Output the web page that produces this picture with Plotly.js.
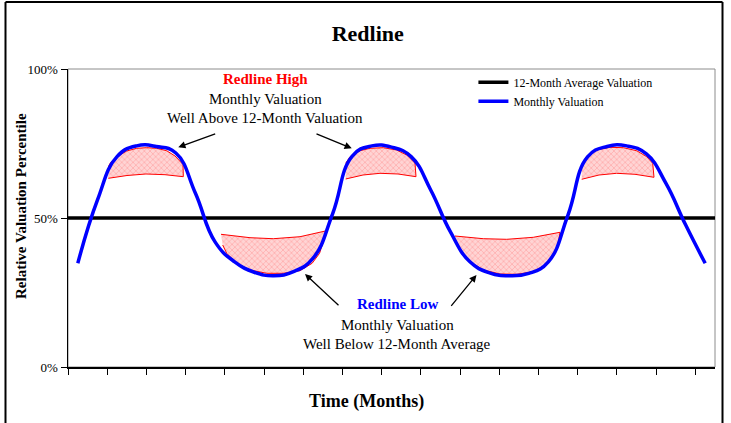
<!DOCTYPE html>
<html><head><meta charset="utf-8">
<script src="https://cdn.plot.ly/plotly-3.0.1.min.js"></script>
<style>html,body{margin:0;padding:0;background:#fff}#chart{width:731px;height:423px}</style>
</head><body><div id="chart"></div>
<script>
// ---- data ----
const months = [0,1,2,3,4,5,6,7,8,9,10,11,12,13,14,15,16,17,18,19,20,21,22,23,24,25,26,27,28,29,30,31,32];
const monthlyValuation = [34.8,56,70.6,74.2,74,71.8,58.3,42,35.3,31.8,30.6,32,36.5,51.5,70.8,74.2,73.8,70.6,59.4,45.4,35.3,31.6,30.6,31.4,35.3,51,70.5,74,74.2,71.5,61.6,47.7,34.8];
const averageValuation = [50, 50];
const xRange = [-0.5, 32.5];
const xTickVals = [-0.5,1.5,3.5,5.5,7.5,9.5,11.5,13.5,15.5,17.5,19.5,21.5,23.5,25.5,27.5,29.5,31.5];
const yTickVals = [0, 50, 100];
const yTickText = ['0%', '50%', '100%'];

// "Redline" shaded zones (outline points, in months / percent)
const highZone1X = [1.556,2.509,3.478,4.447,5.381,5.366,4.957,4.534,4.024,3.514,3.004,2.494,2.066,1.642,1.556];
const highZone1Y = [63.32,64.26,64.77,64.53,63.86,67.95,70.81,72.58,73.39,73.59,73.39,72.48,70.81,68.36,67.11];
const highZone2X = [13.664,14.546,15.414,16.332,17.250,17.199,16.775,16.265,15.582,14.904,14.393,13.883,13.664];
const highZone2Y = [63.09,64.43,65.00,64.77,63.86,68.36,71.14,72.82,73.59,73.39,72.58,70.57,68.36];
const highZone3X = [25.701,26.584,27.486,28.420,29.389,29.323,29.017,28.506,27.823,27.145,26.466,25.956,25.701];
const highZone3Y = [62.99,64.43,65.00,64.66,63.66,68.36,70.57,72.58,73.59,73.72,72.82,70.8,67.5];
const lowZone1X = [7.304,8.783,9.971,11.333,12.70,12.55,12.33,11.95,11.333,10.481,9.635,8.783,8.105,7.594,7.390];
const lowZone1Y = [44.53,43.39,43.05,43.72,45.74,42.62,38.15,34.80,32.32,31.44,31.44,32.55,34.80,38.15,40.94];
const lowZone2X = [19.239,20.682,21.876,23.233,24.594,24.508,24.253,23.830,23.233,22.386,21.534,20.682,20.004,19.581,19.326];
const lowZone2Y = [43.96,43.05,42.85,43.52,45.20,41.51,37.01,34.23,31.98,31.11,31.21,32.55,35.34,38.15,40.94];

// ---- styles ----
const serif = 'Liberation Serif, Times New Roman, serif';
const zoneStyle = {
  type: 'scatter', mode: 'lines', fill: 'toself', showlegend: false, hoverinfo: 'skip',
  line: {color: '#ff0000', width: 1},
  fillcolor: '#ffc8c8',
  fillpattern: {shape: 'x', fgcolor: '#ff9a9a', bgcolor: '#ffd4d4', size: 4, solidity: 0.25}
};
const zones = [[highZone1X, highZone1Y],[highZone2X, highZone2Y],[highZone3X, highZone3Y],[lowZone1X, lowZone1Y],[lowZone2X, lowZone2Y]]
  .map(z => Object.assign({}, zoneStyle, {x: z[0], y: z[1]}));

const traces = zones.concat([
  {type: 'scatter', mode: 'lines', name: '12-Month Average Valuation', x: xRange, y: averageValuation,
   line: {color: '#000000', width: 3.5}, hoverinfo: 'skip'},
  {type: 'scatter', mode: 'lines', name: 'Monthly Valuation', x: months, y: monthlyValuation,
   line: {color: '#0000ff', width: 3.5, shape: 'spline', smoothing: 1.3}}
]);

function arrow(x, y, ax, ay) {
  return {x: x, y: y, xref: 'x', yref: 'y', ax: ax, ay: ay, text: '', showarrow: true,
    arrowhead: 2, arrowsize: 1.1, arrowwidth: 1.3, arrowcolor: '#000', standoff: 0};
}
function label(x, y, text, size, color, bold) {
  return {x: x, y: y, xref: 'x', yref: 'y', text: text, showarrow: false, xanchor: 'center', yanchor: 'middle',
    font: {family: serif, size: size, color: color, weight: bold ? 'bold' : 'normal'}};
}

const layout = {
  width: 731, height: 423,
  margin: {l: 68, r: 16, t: 69, b: 56},
  paper_bgcolor: '#ffffff', plot_bgcolor: '#ffffff',
  font: {family: serif, color: '#000'},
  title: {text: 'Redline', x: 0.503, xanchor: 'center', y: 0.922, yanchor: 'middle',
          font: {family: serif, size: 22, weight: 'bold', color: '#000'}},
  showlegend: true,
  legend: {x: 0.6266, xanchor: 'left', y: 1.004, yanchor: 'top', bgcolor: 'rgba(0,0,0,0)',
           borderwidth: 0, font: {family: serif, size: 12, color: '#000'}, tracegroupgap: 0},
  xaxis: {range: xRange, tickvals: xTickVals, showticklabels: false, ticks: 'outside', ticklen: 6,
          tickcolor: '#000', tickwidth: 1, showline: true, linecolor: '#000', linewidth: 1.5,
          showgrid: false, zeroline: false, fixedrange: true},
  yaxis: {range: [0, 100], tickvals: yTickVals, ticktext: yTickText, ticks: 'outside', ticklen: 6,
          tickcolor: '#000', tickwidth: 1, showline: true, linecolor: '#000', linewidth: 1.5,
          showgrid: false, zeroline: false, fixedrange: true,
          tickfont: {family: serif, size: 13, color: '#000'}},
  shapes: [
    {type: 'rect', xref: 'paper', yref: 'paper', x0: 0, x1: 1, y0: 0, y1: 1, line: {color: '#8c8c8c', width: 1}, layer: 'below'},
    {type: 'line', xref: 'paper', yref: 'paper', x0: -0.0966, x1: -0.0966, y0: -0.25, y1: 1.2248, line: {color: '#000', width: 2}},
    {type: 'line', xref: 'paper', yref: 'paper', x0: -0.0966, x1: 1.0116, y0: 1.2248, y1: 1.2248, line: {color: '#000', width: 2}},
    {type: 'line', xref: 'paper', yref: 'paper', x0: 1.0116, x1: 1.0116, y0: -0.25, y1: 1.2248, line: {color: '#000', width: 2}}
  ],
  annotations: [
    {xref: 'paper', yref: 'paper', x: 0.4621, y: -0.1141, xanchor: 'center', yanchor: 'middle', showarrow: false,
     text: 'Time (Months)', font: {family: serif, size: 18, weight: 'bold', color: '#000'}},
    {xref: 'paper', yref: 'paper', x: -0.0719, y: 0.542, xanchor: 'center', yanchor: 'middle', showarrow: false,
     textangle: -90, text: 'Relative Valuation Percentile', font: {family: serif, size: 15, weight: 'bold', color: '#000'}},
    label(9.573, 96.54, 'Redline High', 15, '#ff0000', true),
    label(9.573, 89.83, 'Monthly Valuation', 15, '#000', false),
    label(9.573, 83.46, 'Well Above 12-Month Valuation', 15, '#000', false),
    label(16.281, 21.14, 'Redline Low', 15, '#0000ff', true),
    label(16.281, 14.09, 'Monthly Valuation', 15, '#000', false),
    label(16.281, 7.72, 'Well Below 12-Month Average', 15, '#000', false),
    arrow(5.126, 73.72, 38.4, -14),
    arrow(13.970, 73.39, -36.7, -15),
    arrow(11.588, 31.21, 35, 32.7),
    arrow(20.336, 30.87, -26.5, 32.3)
  ]
};

Plotly.newPlot('chart', traces, layout, {displayModeBar: false, staticPlot: true});
</script>
</body></html>
